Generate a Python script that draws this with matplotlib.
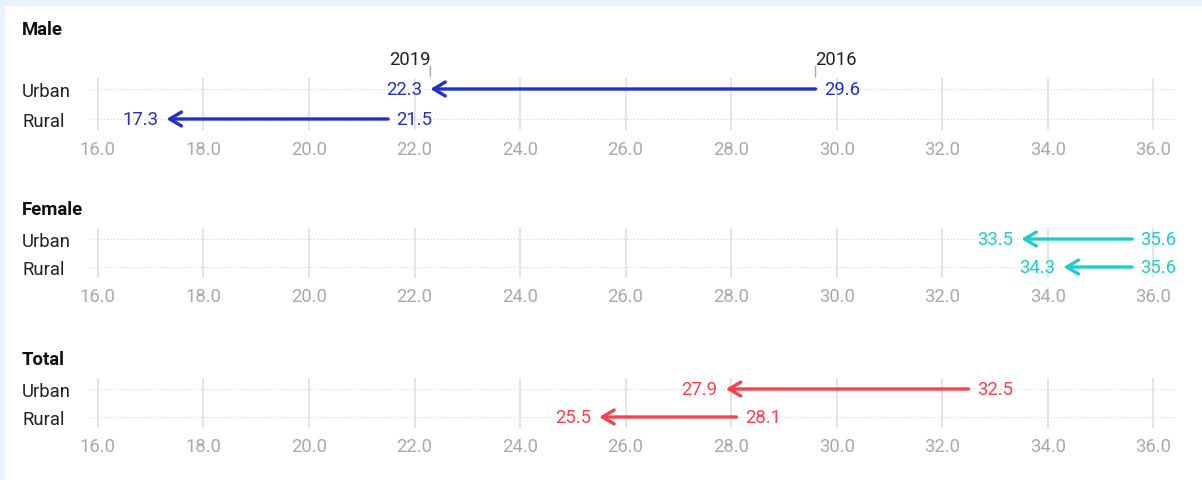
import matplotlib.pyplot as plt
from matplotlib.patches import Rectangle

plt.rcParams['font.family'] = ['Roboto', 'DejaVu Sans']

groups = ['Male', 'Female', 'Total']
areas = ['Urban', 'Rural']
# values per group: [Urban, Rural]
v2016 = {'Male': [29.6, 21.5], 'Female': [35.6, 35.6], 'Total': [32.5, 28.1]}
v2019 = {'Male': [22.3, 17.3], 'Female': [33.5, 34.3], 'Total': [27.9, 25.5]}
colors = {'Male': '#2330c4', 'Female': '#1fcccb', 'Total': '#f5424f'}
xticks = [16, 18, 20, 22, 24, 26, 28, 30, 32, 34, 36]

W, H = 1202, 481
FS = 13.3
# pixel rows: (title y, urban y, rural y)
rows = {'Male': (30, 90, 120), 'Female': (210, 240, 268), 'Total': (360, 390, 418)}
x0, x1 = 90, 1177


def fx(p):
    return p / W


def fy(p):
    return 1 - p / H


fig = plt.figure(figsize=(W / 100, H / 100), dpi=100)
fig.patch.set_facecolor('#e8f3fd')
fig.patches.append(Rectangle((fx(5), 0), 1, fy(7), transform=fig.transFigure,
                             facecolor='white', edgecolor='none', zorder=-10))

for g in groups:
    ty, yu, yr = rows[g]
    step = yr - yu
    top = yu - 0.38 * step
    bot = yr + 0.38 * step
    ax = fig.add_axes([fx(x0), fy(bot), fx(x1 - x0), (bot - top) / H])
    ax.set_facecolor('none')
    ax.set_xlim(15.85, 36.45)
    ax.set_ylim(1.38, -0.38)
    for s in ax.spines.values():
        s.set_visible(False)
    ax.set_xticks(xticks)
    ax.set_xticklabels(['%.1f' % t for t in xticks])
    ax.tick_params(axis='x', length=0, pad=7, labelsize=FS, labelcolor='#a9a9a9')
    ax.set_yticks([0, 1])
    ax.set_yticklabels(areas)
    ax.tick_params(axis='y', length=0, pad=(x0 - 22) * 0.72, labelsize=FS,
                   labelcolor='#222222')
    for lab in ax.get_yticklabels():
        lab.set_horizontalalignment('left')
    for t in xticks:
        ax.axvline(t, color='#e3e3e3', lw=1.3, zorder=1)
    for i in range(2):
        ax.axhline(i, color='#d5d5d5', lw=0.8, ls=(0, (1, 2)), zorder=1)

    c = colors[g]
    for i in range(2):
        a, b = v2016[g][i], v2019[g][i]
        ax.annotate('', xy=(b, i), xytext=(a, i),
                    arrowprops=dict(arrowstyle='->,head_length=0.42,head_width=0.25',
                                    color=c, lw=2.4, shrinkA=0, shrinkB=0,
                                    mutation_scale=20), zorder=3)
        ax.annotate('%.1f' % b, xy=(b, i), xytext=(-6, 0), textcoords='offset points',
                    ha='right', va='center', color=c, fontsize=FS)
        ax.annotate('%.1f' % a, xy=(a, i), xytext=(6, 0), textcoords='offset points',
                    ha='left', va='center', color=c, fontsize=FS)

    fig.text(fx(22), fy(ty), g, fontsize=FS, fontweight='bold', color='#111111',
             va='center', ha='left')

    if g == 'Male':
        for val in [v2019[g][0], v2016[g][0]]:
            ax.annotate('', xy=(val, -0.4), xytext=(val, -0.75),
                        textcoords='data', annotation_clip=False,
                        arrowprops=dict(arrowstyle='-', color='#aaaaaa', lw=1,
                                        shrinkA=0, shrinkB=0))
        ax.text(v2019[g][0], -1.0, '2019', ha='right', va='center', fontsize=FS,
                color='#222222', clip_on=False)
        ax.text(v2016[g][0], -1.0, '2016', ha='left', va='center', fontsize=FS,
                color='#222222', clip_on=False)

fig.savefig('out.png', dpi=100)
